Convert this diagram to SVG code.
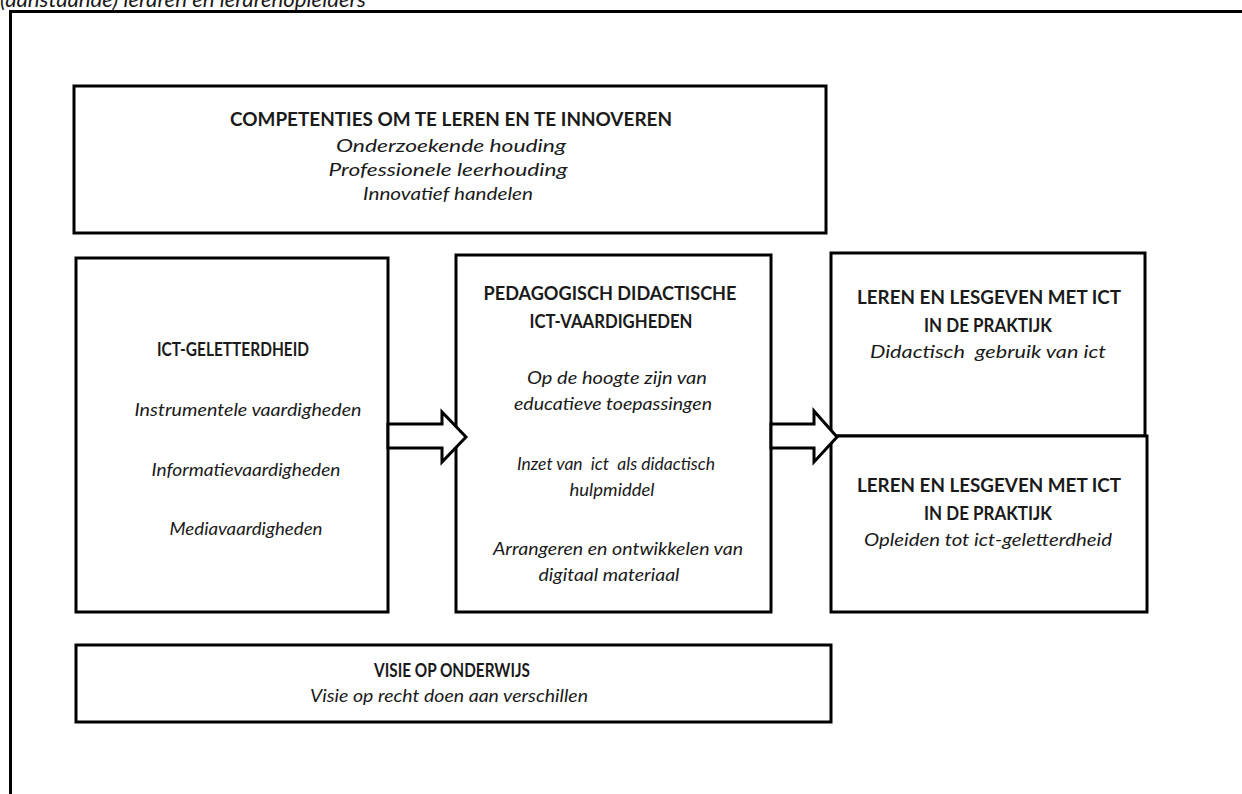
<svg xmlns="http://www.w3.org/2000/svg" width="1242" height="794" viewBox="0 0 1242 794">
<style>
.box{fill:#fff;stroke:#000;stroke-width:3}
.arrow{fill:#fff;stroke:#000;stroke-width:3;stroke-linejoin:miter}
text{font-family:Lato,"Open Sans",sans-serif;font-size:18px;fill:#1a1a1a;text-anchor:middle}
.b{font-weight:bold}
.i{font-style:italic}
.pre{white-space:pre}
</style>
<rect width="1242" height="794" fill="#fff"/>
<text class="i" x="0" y="7" style="text-anchor:start;font-size:21px" textLength="366" lengthAdjust="spacingAndGlyphs">(aanstaande) leraren en lerarenopleiders</text>
<path d="M10.5 800 V11.5 H1250" fill="none" stroke="#000" stroke-width="3"/>
<g id="competenties">
<rect class="box" x="74" y="86" width="752" height="147"/>
<text class="b" x="451" y="126" textLength="442" lengthAdjust="spacingAndGlyphs">COMPETENTIES OM TE LEREN EN TE INNOVEREN</text>
<text class="i" x="451" y="152" textLength="230" lengthAdjust="spacingAndGlyphs">Onderzoekende houding</text>
<text class="i" x="448" y="176" textLength="239" lengthAdjust="spacingAndGlyphs">Professionele leerhouding</text>
<text class="i" x="448" y="200" textLength="170" lengthAdjust="spacingAndGlyphs">Innovatief handelen</text>
</g>
<g id="geletterdheid">
<rect class="box" x="76" y="258" width="312" height="354"/>
<text class="b" x="233" y="356" textLength="152" lengthAdjust="spacingAndGlyphs">ICT-GELETTERDHEID</text>
<text class="i" x="248" y="416" textLength="227" lengthAdjust="spacingAndGlyphs">Instrumentele vaardigheden</text>
<text class="i" x="246" y="476" textLength="189" lengthAdjust="spacingAndGlyphs">Informatievaardigheden</text>
<text class="i" x="246" y="535" textLength="153" lengthAdjust="spacingAndGlyphs">Mediavaardigheden</text>
</g>
<g id="pedagogisch">
<rect class="box" x="456" y="255" width="315" height="357"/>
<text class="b" x="610" y="300" textLength="253" lengthAdjust="spacingAndGlyphs">PEDAGOGISCH DIDACTISCHE</text>
<text class="b" x="611" y="328" textLength="163" lengthAdjust="spacingAndGlyphs">ICT-VAARDIGHEDEN</text>
<text class="i" x="617" y="384" textLength="180" lengthAdjust="spacingAndGlyphs">Op de hoogte zijn van</text>
<text class="i" x="613" y="410" textLength="198" lengthAdjust="spacingAndGlyphs">educatieve toepassingen</text>
<text class="i pre" x="616" y="470" textLength="198" lengthAdjust="spacingAndGlyphs">Inzet van  ict  als didactisch</text>
<text class="i" x="612" y="496" textLength="85" lengthAdjust="spacingAndGlyphs">hulpmiddel</text>
<text class="i" x="618" y="555" textLength="250" lengthAdjust="spacingAndGlyphs">Arrangeren en ontwikkelen van</text>
<text class="i" x="609" y="581" textLength="141" lengthAdjust="spacingAndGlyphs">digitaal materiaal</text>
</g>
<g id="praktijk1">
<rect class="box" x="831" y="253" width="314" height="183"/>
<text class="b" x="989" y="304" textLength="264" lengthAdjust="spacingAndGlyphs">LEREN EN LESGEVEN MET ICT</text>
<text class="b" x="988" y="332" textLength="128" lengthAdjust="spacingAndGlyphs">IN DE PRAKTIJK</text>
<text class="i pre" x="988" y="358" textLength="236" lengthAdjust="spacingAndGlyphs">Didactisch  gebruik van ict</text>
</g>
<g id="praktijk2">
<rect class="box" x="831" y="436" width="316" height="176"/>
<text class="b" x="989" y="492" textLength="264" lengthAdjust="spacingAndGlyphs">LEREN EN LESGEVEN MET ICT</text>
<text class="b" x="988" y="520" textLength="128" lengthAdjust="spacingAndGlyphs">IN DE PRAKTIJK</text>
<text class="i" x="988" y="546" textLength="248" lengthAdjust="spacingAndGlyphs">Opleiden tot ict-geletterdheid</text>
</g>
<g id="visie">
<rect class="box" x="76" y="645" width="755" height="77"/>
<text class="b" x="452" y="677" textLength="156" lengthAdjust="spacingAndGlyphs">VISIE OP ONDERWIJS</text>
<text class="i" x="449" y="702" textLength="278" lengthAdjust="spacingAndGlyphs">Visie op recht doen aan verschillen</text>
</g>
<g id="connectors">
<path class="arrow" d="M388 424 H442 V412 L466 437 L442 462 V448 H388 Z"/>
<path class="arrow" d="M771 424 H814 V411 L837 437 L814 462 V448 H771 Z"/>
</g>
</svg>
